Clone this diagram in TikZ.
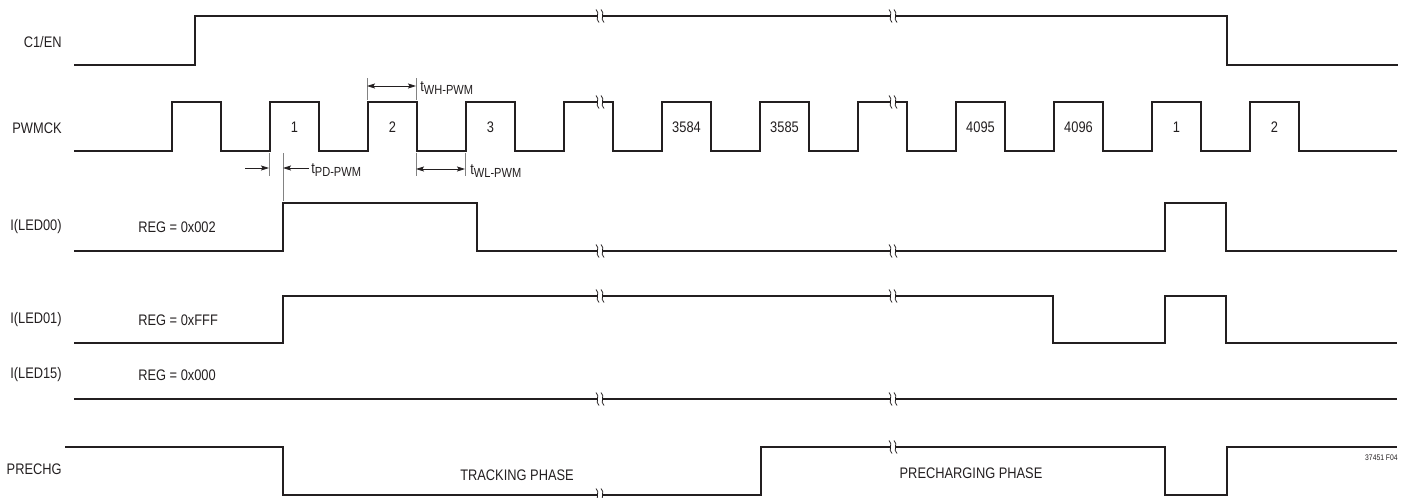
\documentclass[tikz,border=0pt]{standalone}
\usepackage{fontspec}
\setmainfont[FakeStretch=0.84]{Liberation Sans}
\usepackage{xcolor}
\usetikzlibrary{arrows.meta}
\definecolor{ltcink}{RGB}{35,31,32}
\definecolor{ltcgray}{RGB}{130,130,130}
\newcommand{\tsub}[1]{t\raisebox{-1.8pt}{\fontsize{7.5}{9}\selectfont #1}}

\begin{document}
\begin{tikzpicture}[x=0.02cm,y=-0.02cm,
    sig/.style={draw=ltcink,line width=1.1pt},
    tick/.style={draw=ltcgray,line width=0.45pt},
    dim/.style={draw=ltcink,line width=0.45pt,
      {Stealth[length=1.6mm,width=1mm,inset=0.3mm]}-{Stealth[length=1.6mm,width=1mm,inset=0.3mm]}},
    pd/.style={draw=ltcink,line width=0.45pt,-{Stealth[length=1.6mm,width=1mm,inset=0.3mm]}},
    lbl/.style={anchor=east,inner sep=0pt,text=ltcink,font=\fontsize{8.7}{10}\selectfont},
    reg/.style={lbl,anchor=west},
    num/.style={inner sep=0pt,text=ltcink,font=\fontsize{8.7}{10}\selectfont},
    brk/.pic={
      \fill[white] (-2.5,-2) rectangle (2.5,2);
      \foreach \d in {-2.5,2.5}
        \draw[ltcink,line width=0.45pt] (\d-1.5,-6.5) .. controls (\d+3,-3) and (\d-3,3) .. (\d+1.5,6.5);
    }]
  \useasboundingbox (0,0) rectangle (1409,497);

  % signal names
  \node[lbl] (c1en) at (62,42) {C1/EN};
  \node[lbl] (pwmck) at (62,128) {PWMCK};
  \node[lbl] (led00) at (62,227) {I(LED00)};
  \node[lbl] (led01) at (62,320) {I(LED01)};
  \node[lbl] (led15) at (62,375) {I(LED15)};
  \node[lbl] (prechg) at (62,469) {PRECHG};
  \node[reg] (reg00) at (138,227) {REG = 0x002};
  \node[reg] (reg01) at (138,320) {REG = 0xFFF};
  \node[reg] (reg15) at (138,375) {REG = 0x000};

  % waveforms
  \draw[sig] (74,65) -- (195,65) -- (195,16) -- (1227,16) -- (1227,65) -- (1398,65);
  \draw[sig] (74,151) \foreach \k in {0,...,11}{ -- ({172+98*\k},151) -- ++(0,-49) -- ++(49,0) -- ++(0,49)} -- (1397,151);
  \draw[sig] (74,251) -- (283,251) -- (283,203) -- (477,203) -- (477,251) -- (1165,251) -- (1165,203) -- (1226,203) -- (1226,251) -- (1397,251);
  \draw[sig] (74,343) -- (283,343) -- (283,296) -- (1053,296) -- (1053,343) -- (1165,343) -- (1165,296) -- (1226,296) -- (1226,343) -- (1397,343);
  \draw[sig] (74,399) -- (1397,399);
  \draw[sig] (65,447) -- (283,447) -- (283,495) -- (761,495) -- (761,447) -- (1165,447) -- (1165,495) -- (1227,495) -- (1227,447) -- (1397,447);

  % breaks
  \foreach \y in {16,102,251,296,399}{
    \pic at (600,\y) {brk};
    \pic at (893,\y) {brk};
  }
  \pic at (600,495) {brk};
  \pic at (893,447) {brk};

  % pulse counts
  \foreach \k/\n in {1/1,2/2,3/3,5/3584,6/3585,8/4095,9/4096,10/1,11/2}
    \node[num] (cnt\k) at ({196.5+98*\k},127) {\n};

  % timing marks
  \coordinate (wh1) at (367,86);
  \coordinate (wh2) at (416,86);
  \draw[tick] (367,78) -- (367,100) (416,78) -- (416,100);
  \draw[dim] (wh1) -- (wh2);
  \node[reg] (twh) at (420,88) {\tsub{WH-PWM}};

  \coordinate (wl1) at (416,169);
  \coordinate (wl2) at (465,169);
  \draw[tick] (416,153) -- (416,176) (465,153) -- (465,176);
  \draw[dim] (wl1) -- (wl2);
  \node[reg] (twl) at (470,171) {\tsub{WL-PWM}};

  \coordinate (pd0) at (245,168);
  \coordinate (pd1) at (269,168);
  \coordinate (pd2) at (283,168);
  \coordinate (pd3) at (309,168);
  \draw[tick] (269,153) -- (269,176) (283,153) -- (283,201);
  \draw[pd] (pd0) -- (pd1);
  \draw[pd] (pd3) -- (pd2);
  \node[reg] (tpd) at (311,170) {\tsub{PD-PWM}};

  % phases
  \node[num] (track) at (517,475) {TRACKING PHASE};
  \node[num] (prech) at (971,473) {PRECHARGING PHASE};
  \node[lbl,font=\fontsize{4.6}{5}\selectfont] (fig) at (1398,458) {37451 F04};
\end{tikzpicture}
\end{document}
